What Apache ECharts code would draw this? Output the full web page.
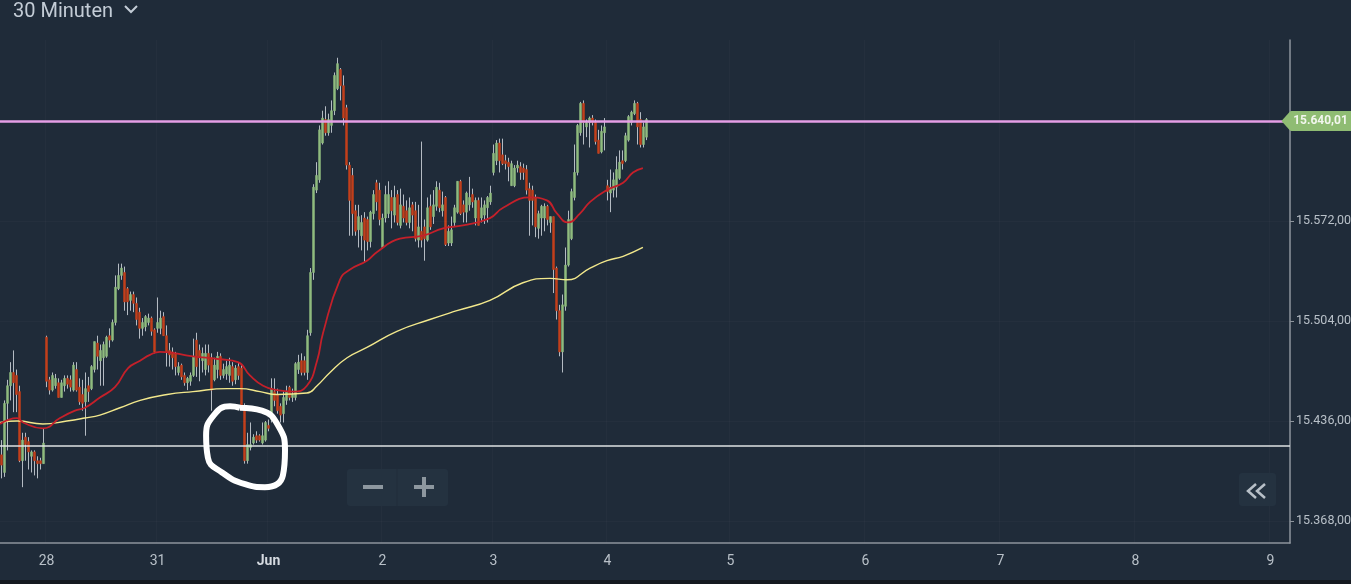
<!DOCTYPE html>
<html>
<head>
    <meta charset="utf-8">
    <title>30 Minuten</title>
    <script src="https://cdn.jsdelivr.net/npm/echarts@6/dist/echarts.min.js"></script>
    <style>
        * { padding: 0; margin: 0; }
        body { background: #1f2b39; }
    </style>
</head>
<body>
    <div id="main" style="width:1351px;height:584px"></div>
    <script type="text/javascript">
        // candles, one per bar
        var opens = [15413,15401,15448,15460,15469,15467,15456,15409,15425,15422,15412,15415,15409,15409,15407,15493,15464,15457,15460,15462,15452,15460,15465,15464,15457,15471,15459,15454,15449,15460,15458,15471,15489,15477,15479,15480,15494,15491,15503,15526,15535,15537,15526,15518,15522,15516,15510,15499,15500,15503,15506,15498,15499,15499,15507,15494,15484,15483,15482,15469,15474,15467,15462,15463,15467,15491,15484,15477,15471,15482,15479,15464,15471,15480,15467,15468,15467,15473,15464,15473,15472,15446,15409,15418,15421,15426,15426,15421,15423,15433,15437,15456,15454,15446,15441,15450,15459,15452,15452,15471,15477,15477,15469,15496,15537,15593,15600,15625,15641,15632,15637,15647,15662,15675,15664,15649,15610,15603,15579,15566,15562,15574,15573,15558,15577,15598,15593,15554,15574,15577,15588,15576,15590,15569,15582,15579,15571,15583,15579,15559,15565,15568,15559,15582,15575,15582,15593,15579,15588,15557,15557,15571,15578,15599,15583,15578,15583,15590,15574,15586,15574,15576,15581,15585,15605,15613,15625,15617,15613,15612,15596,15596,15608,15609,15608,15607,15594,15593,15588,15567,15574,15574,15582,15571,15575,15540,15511,15483,15514,15542,15560,15588,15605,15632,15652,15636,15639,15642,15639,15627,15619,15632,15596,15591,15593,15595,15601,15613,15613,15627,15639,15645,15652,15641,15624,15629];
        var closes = [15406,15448,15460,15469,15462,15454,15409,15423,15420,15415,15415,15409,15407,15407,15421,15463,15457,15467,15465,15452,15462,15465,15461,15459,15474,15457,15449,15448,15458,15456,15473,15490,15480,15484,15488,15493,15491,15503,15527,15535,15540,15517,15517,15522,15516,15505,15499,15503,15507,15506,15497,15483,15503,15506,15494,15483,15481,15479,15473,15473,15466,15462,15465,15467,15480,15473,15479,15482,15482,15474,15457,15474,15480,15467,15471,15473,15474,15463,15472,15467,15446,15409,15420,15420,15425,15423,15423,15426,15435,15431,15458,15450,15443,15440,15452,15456,15452,15454,15475,15476,15469,15469,15494,15537,15595,15603,15634,15642,15632,15641,15647,15671,15679,15664,15642,15610,15586,15577,15565,15575,15571,15559,15558,15578,15590,15585,15573,15574,15590,15590,15579,15588,15571,15583,15574,15571,15581,15576,15560,15568,15559,15560,15581,15568,15583,15595,15581,15583,15556,15565,15566,15581,15599,15577,15578,15591,15588,15585,15586,15569,15581,15583,15588,15591,15618,15625,15613,15611,15611,15609,15611,15608,15610,15605,15605,15593,15586,15586,15568,15577,15582,15582,15573,15575,15539,15511,15483,15515,15542,15573,15592,15605,15637,15652,15639,15639,15642,15639,15626,15618,15633,15636,15592,15595,15600,15607,15612,15611,15630,15643,15646,15652,15636,15624,15636,15641];
        var lows = [15397,15398,15416,15450,15442,15442,15408,15391,15409,15403,15401,15399,15397,15403,15407,15459,15454,15456,15458,15452,15452,15456,15458,15456,15456,15456,15447,15443,15426,15449,15457,15469,15471,15460,15460,15479,15486,15490,15501,15525,15532,15511,15508,15511,15510,15501,15492,15494,15497,15501,15494,15482,15496,15495,15494,15473,15473,15471,15467,15467,15464,15460,15457,15460,15466,15466,15463,15469,15467,15469,15443,15463,15465,15464,15465,15464,15462,15460,15461,15464,15445,15407,15407,15416,15420,15421,15422,15420,15422,15429,15435,15446,15441,15435,15435,15447,15450,15449,15450,15468,15467,15467,15464,15494,15532,15591,15598,15624,15630,15630,15632,15644,15661,15654,15637,15607,15562,15562,15562,15554,15552,15544,15552,15554,15573,15579,15569,15553,15571,15574,15567,15571,15569,15567,15571,15569,15567,15565,15558,15554,15554,15545,15558,15566,15570,15579,15578,15575,15555,15555,15555,15568,15577,15576,15571,15571,15579,15581,15569,15569,15571,15570,15571,15583,15603,15610,15605,15610,15607,15599,15596,15595,15605,15600,15600,15590,15562,15569,15561,15560,15562,15565,15569,15564,15523,15505,15480,15469,15511,15541,15559,15586,15603,15630,15624,15629,15622,15637,15624,15618,15618,15620,15586,15578,15588,15588,15600,15607,15612,15626,15637,15644,15624,15622,15622,15627];
        var highs = [15423,15450,15464,15476,15484,15471,15460,15428,15428,15425,15416,15416,15412,15411,15431,15494,15466,15469,15468,15465,15464,15467,15467,15467,15476,15476,15465,15464,15469,15466,15474,15490,15494,15488,15490,15494,15499,15505,15535,15543,15543,15541,15527,15524,15524,15520,15513,15506,15508,15509,15507,15499,15520,15511,15510,15501,15489,15486,15483,15476,15475,15469,15466,15469,15492,15496,15488,15486,15488,15488,15482,15479,15483,15482,15475,15477,15479,15476,15474,15476,15474,15448,15428,15435,15427,15429,15427,15435,15436,15437,15465,15465,15458,15448,15456,15460,15460,15458,15476,15481,15482,15480,15498,15540,15597,15612,15637,15647,15650,15645,15654,15673,15683,15676,15671,15651,15612,15608,15583,15583,15576,15578,15575,15579,15593,15600,15598,15577,15596,15599,15593,15596,15593,15594,15590,15586,15588,15585,15585,15583,15626,15573,15588,15590,15593,15599,15598,15592,15589,15569,15575,15583,15599,15600,15586,15592,15602,15594,15588,15588,15588,15586,15589,15596,15624,15627,15628,15628,15617,15615,15613,15610,15613,15612,15611,15610,15598,15596,15590,15579,15583,15584,15583,15575,15575,15541,15515,15522,15554,15579,15594,15624,15638,15653,15654,15641,15643,15644,15641,15634,15637,15642,15600,15607,15605,15616,15620,15620,15632,15644,15647,15654,15653,15646,15639,15642];

        // moving averages as [bar, price] readings
        var maFast = [[-0.5,15434],[5.2,15438],[7.2,15435],[13.8,15431],[19.5,15438],[24.5,15443],[27.8,15445],[32.8,15452],[37.8,15459],[42.2,15472],[46.2,15477],[49.5,15481],[52.8,15483],[63.8,15480],[72.8,15478],[78.8,15476],[82.8,15467],[87.2,15460],[91.8,15457],[97.2,15456],[101.8,15460],[105.2,15477],[107.2,15496],[112.8,15532],[116.2,15539],[121.8,15545],[125.2,15551],[132.8,15560],[140.5,15562],[147.2,15567],[153.8,15569],[162.8,15574],[167.2,15581],[176.2,15588],[181.8,15586],[185.2,15577],[188.8,15571],[192.8,15577],[196.2,15585],[201.8,15593],[207.2,15598],[210.5,15605],[213.8,15608]];
        var maSlow = [[-0.5,15435],[5.2,15436],[13.8,15434],[21.8,15436],[27.8,15438],[32.8,15440],[39.5,15445],[46.2,15450],[55.2,15454],[63.8,15456],[75.2,15458],[79.5,15458],[86.2,15456],[91.8,15454],[101.8,15455],[105.2,15460],[109.5,15469],[115.2,15479],[121.8,15486],[131.8,15497],[142.8,15505],[151.8,15511],[162.8,15518],[173.8,15530],[182.8,15533],[188.5,15532],[196.2,15540],[201.8,15545],[207.2,15548],[213.8,15554]];
        // the hand drawn ring around the low
        var ring = [[79.5,15445],[86.8,15443],[92.2,15433],[94.5,15416],[93.8,15399],[87.8,15391],[81.2,15393],[73.5,15401],[68.8,15411],[68.2,15426],[70.8,15440],[76.2,15446],[79.5,15445]];

        var priceTicks = [15368, 15436, 15504, 15572];
        var lastPrice = 15640.01;
        var supportLevel = 15419.5;
        var tickLabels = ['28', '31', 'Jun', '2', '3', '4', '5', '6', '7', '8', '9'];
        var tickBars = [15, 52, 89, 127, 164, 202, 243, 288, 333, 378, 423];
        var barCount = 430;

        var categories = [];
        for (var i = 0; i < barCount; i++) {
            var pos = tickBars.indexOf(i);
            categories.push(pos >= 0 ? tickLabels[pos] : '');
        }
        var wicks = opens.map(function (o, i) { return [o, closes[i], lows[i], highs[i]]; });
        var bodies = opens.map(function (o, i) {
            return [o, closes[i], Math.min(o, closes[i]), Math.max(o, closes[i])];
        });
        var showTick = function (index, value) { return value !== ''; };
        var fmtPrice = function (v) {
            var s = v.toFixed(2).split('.');
            return s[0].replace(/\B(?=(\d{3})+$)/g, '.') + ',' + s[1];
        };

        var myChart = echarts.init(document.getElementById('main'));
        myChart.setOption({
            animation: false,
            backgroundColor: '#1f2b39',
            textStyle: { fontFamily: 'Roboto' },
            title: {
                text: '30 Minuten', left: 8, top: -3,
                textStyle: { color: '#c3ccd6', fontSize: 20, fontWeight: 'normal', fontFamily: 'Roboto' }
            },
            grid: { left: 0, right: 61, top: 40, bottom: 41, outerBoundsMode: 'none' },
            xAxis: [{
                type: 'category',
                data: categories,
                axisLine: { lineStyle: { color: '#8d949c', width: 1.5 } },
                axisTick: { interval: showTick, alignWithLabel: true, length: 5, lineStyle: { color: '#8d949c' } },
                axisLabel: {
                    interval: showTick, margin: 11, fontSize: 14, color: '#b8c0c8',
                    formatter: function (v) { return v === 'Jun' ? '{m|Jun}' : v; },
                    rich: { m: { fontSize: 14, fontWeight: 'bold', color: '#d5dae0' } }
                },
                splitLine: { show: true, interval: showTick, lineStyle: { color: 'rgba(255,255,255,0.025)' } }
            }, {
                type: 'value', show: false, min: -0.5, max: barCount - 0.5
            }],
            yAxis: {
                type: 'value',
                position: 'right',
                min: 15353.04,
                max: 15695.08,
                axisLine: { show: true, onZero: false, lineStyle: { color: '#8d949c', width: 1.5 } },
                axisTick: { show: true, length: 4, customValues: priceTicks, lineStyle: { color: '#8d949c' } },
                axisLabel: { customValues: priceTicks, margin: 6, fontSize: 12.5, color: '#b8c0c8', formatter: fmtPrice },
                splitLine: { show: false }
            },
            series: [{
                type: 'candlestick', name: 'wick', data: wicks, barWidth: 1, z: 2,
                itemStyle: { color: '#b4bbc3', color0: '#b4bbc3', borderColor: '#b4bbc3', borderColor0: '#b4bbc3', borderWidth: 1 },
                markLine: {
                    silent: true, symbol: 'none', label: { show: false },
                    lineStyle: { color: 'rgba(255,255,255,0.025)', width: 1, type: 'solid' },
                    data: priceTicks.map(function (v) { return { yAxis: v }; })
                }
            }, {
                type: 'candlestick', name: 'body', data: bodies, barWidth: 3, z: 3,
                itemStyle: { color: '#8fbb7e', color0: '#c23f1b', borderColor: '#8fbb7e', borderColor0: '#c23f1b', borderWidth: 0.5 }
            }, {
                type: 'line', name: 'slow', xAxisIndex: 1, data: maSlow, smooth: 0.5, showSymbol: false, z: 4,
                lineStyle: { color: '#f2e88c', width: 1.4 }
            }, {
                type: 'line', name: 'fast', xAxisIndex: 1, data: maFast, smooth: 0.5, showSymbol: false, z: 5,
                lineStyle: { color: '#c4202a', width: 1.8 }
            }, {
                type: 'line', name: 'ring', xAxisIndex: 1, data: ring, smooth: 0.5, showSymbol: false, z: 7,
                lineStyle: { color: '#ffffff', width: 6 }
            }, {
                type: 'line', name: 'levels', data: [], z: 6,
                markLine: {
                    silent: true, symbol: 'none', label: { show: false },
                    data: [
                        { yAxis: lastPrice, lineStyle: { color: '#e59ee6', width: 2.5, type: 'solid' } },
                        { yAxis: supportLevel, lineStyle: { color: '#dfe3e3', width: 1.5, type: 'solid' } }
                    ]
                },
                markPoint: {
                    silent: true,
                    symbol: 'path://M0 10 L8 1 Q9 0 10 0 L70 0 L70 20 L10 20 Q9 20 8 19 Z',
                    symbolSize: [70, 20],
                    symbolKeepAspect: false,
                    symbolOffset: [28, 0],
                    itemStyle: { color: '#8fbc73' },
                    label: { show: true, color: '#f2f6ee', fontSize: 12, fontWeight: 'bold', offset: [4, 0], formatter: function () { return fmtPrice(lastPrice); } },
                    data: [{ coord: [barCount - 1, lastPrice] }]
                }
            }],
            graphic: [
                { type: 'polyline', z: 10, shape: { points: [[125, 6], [131, 12], [137, 6]] }, style: { stroke: '#c3ccd6', lineWidth: 2, fill: null } },
                { type: 'rect', z: 10, shape: { x: 347, y: 469, width: 101, height: 37, r: 3 }, style: { fill: '#243240' } },
                { type: 'line', z: 11, shape: { x1: 397, y1: 469, x2: 397, y2: 506 }, style: { stroke: '#202d3a', lineWidth: 1 } },
                { type: 'rect', z: 11, shape: { x: 363, y: 485, width: 20, height: 4 }, style: { fill: '#8d979f' } },
                { type: 'rect', z: 11, shape: { x: 414, y: 485, width: 20, height: 4 }, style: { fill: '#8d979f' } },
                { type: 'rect', z: 11, shape: { x: 422, y: 477, width: 4, height: 20 }, style: { fill: '#8d979f' } },
                { type: 'rect', z: 10, shape: { x: 1239, y: 473, width: 37, height: 33, r: 3 }, style: { fill: '#243240' } },
                { type: 'polyline', z: 11, shape: { points: [[1256, 484], [1248, 491], [1256, 498]] }, style: { stroke: '#b8c0c8', lineWidth: 2.5, fill: null } },
                { type: 'polyline', z: 11, shape: { points: [[1265, 484], [1257, 491], [1265, 498]] }, style: { stroke: '#b8c0c8', lineWidth: 2.5, fill: null } },
                { type: 'rect', z: 10, shape: { x: 0, y: 580, width: 1351, height: 4 }, style: { fill: '#15191f' } }
            ]
        });
    </script>
</body>
</html>
